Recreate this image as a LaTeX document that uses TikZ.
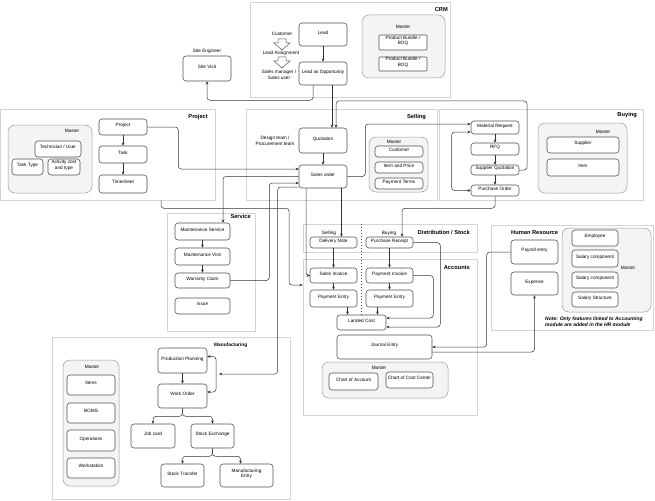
\documentclass[tikz,border=0pt]{standalone}
\usepackage{fontspec}
\setmainfont{Liberation Sans}
\usetikzlibrary{fit,arrows.meta}
\pgfdeclarelayer{bg}
\pgfsetlayers{bg,main}
\definecolor{framegray}{HTML}{D4D4D4}
\definecolor{masterfill}{HTML}{F4F4F4}
\definecolor{masterline}{HTML}{9A9A9A}
\definecolor{boxline}{HTML}{505050}
\definecolor{wirecol}{HTML}{333333}
\tikzset{
  txt/.style={font=\fontsize{4.7}{5.6}\selectfont, align=center, inner sep=0pt},
  box/.style={txt, draw=boxline, fill=white, rounded corners=3pt, line width=0.55pt},
  flatbox/.style={box, rounded corners=1pt},
  master/.style={inner sep=0pt, draw=masterline, fill=masterfill, rounded corners=7pt, line width=0.5pt},
  frame/.style={inner sep=0pt, draw=framegray, line width=0.7pt},
  title/.style={font=\fontsize{5.7}{7}\selectfont\bfseries, inner sep=0pt},
  wire/.style={draw=wirecol, line width=0.5pt, rounded corners=3pt, -{Stealth[length=3.2pt,width=2.8pt]}},
  hollow/.style={draw=boxline, fill=white, line width=0.5pt, line join=miter},
}
\begin{document}
\begin{tikzpicture}[x=1pt,y=-1pt]
\useasboundingbox (0,0) rectangle (655,500);
\begin{pgfonlayer}{bg}
  \node[frame, fit={(250,2) (450,97)}] (crmframe) {};
  \node[frame, fit={(0,109) (215,200)}] (projframe) {};
  \node[frame, fit={(246,109) (437,200)}] (sellframe) {};
  \node[frame, fit={(439,109) (643,200)}] (buyframe) {};
  \node[frame, fit={(167,213) (255,331)}] (servframe) {};
  \node[frame, fit={(303,224) (477,252)}] (distframe) {};
  \node[frame, fit={(303,259) (477,415)}] (accframe) {};
  \node[frame, fit={(491,225) (653,330)}] (hrframe) {};
  \node[frame, fit={(52,337) (290,499)}] (mfgframe) {};
  \node[master, fit={(362,15) (445,78)}] (crmmaster) {};
  \node[master, fit={(8,125) (92,193)}] (projmaster) {};
  \node[master, fit={(369,137) (428,192)}] (sellmaster) {};
  \node[master, fit={(538,123) (627,193)}] (buymaster) {};
  \node[master, fit={(322,362) (448,398)}] (accmaster) {};
  \node[master, fit={(562,228) (651,312)}] (hrmaster) {};
  \node[master, fit={(63,360) (119,486)}] (mfgmaster) {};
\end{pgfonlayer}
% titles
\node[title, anchor=east] (crmtitle) at (448,10) {CRM};
\node[title, anchor=east] (projtitle) at (208,117) {Project};
\node[title, anchor=east] (selltitle) at (426,117) {Selling};
\node[title, anchor=east] (buytitle) at (637,115) {Buying};
\node[title, anchor=east] (servtitle) at (251,216) {Service};
\node[title, anchor=east] (disttitle) at (470,232) {Distribution / Stock};
\node[title, anchor=east] (acctitle) at (470,268) {Accounts};
\node[title, anchor=west] (hrtitle) at (511,233) {Human Resource};
\node[title, anchor=west, font=\fontsize{4.8}{6}\selectfont\bfseries] (mfgtitle) at (214,345) {Manufacturing};
% master labels
\node[txt] (crmmlbl) at (403,27) {Master};
\node[txt] (projmlbl) at (72,131) {Master};
\node[txt] (sellmlbl) at (394,142) {Master};
\node[txt] (buymlbl) at (603,132) {Master};
\node[txt] (accmlbl) at (379,368) {Master};
\node[txt] (hrmlbl) at (628,268) {Master};
\node[txt] (mfgmlbl) at (92,367) {Master};
% crm
\node[box, fit={(299,23) (347,46)}] (lead) {Lead};
\node[box, fit={(299,62) (347,85)}] (leadopp) {Lead as Opportunity};
\node[flatbox, fit={(379,35) (427,50)}] (bundlea) {Product Bundle /\\BOQ};
\node[flatbox, fit={(379,57) (427,71)}] (bundleb) {Product Bundle /\\BOQ};
\node[txt] (custlbl) at (282,34) {Customer};
\node[txt] (assignlbl) at (281,53) {Lead Assignment};
\node[txt] (smlbl) at (279,75) {Sales manager /\\Sales user};
\foreach \y in {39,57}
  \draw[hollow] (278,\y) -- (286,\y) -- (286,\y+4) -- (290,\y+4) -- (282,\y+11) -- (274,\y+4) -- (278,\y+4) -- cycle;
\node[txt] (selbl) at (207,51) {Site Engineer};
\node[box, fit={(183,56) (231,81)}] (sitevisit) {Site Visit};
% project
\node[box, fit={(35,141) (81,157)}] (techuser) {Technician / User};
\node[box, fit={(12,159) (43,175)}] (tasktype) {Task Type};
\node[box, fit={(48,159) (80,175)}] (activity) {Activity cost\\and type};
\node[box, fit={(99,119) (147,135)}] (project) {Project};
\node[box, fit={(99,146) (147,163)}] (task) {Task};
\node[box, fit={(99,175) (147,193)}] (timesheet) {Timesheet};
% selling
\node[txt] (designlbl) at (275,141) {Design team /\\Procurement team};
\node[box, fit={(299,128) (347,153)}] (quotation) {Quotation};
\node[box, fit={(299,165) (347,188)}] (salesorder) {Sales order};
\node[box, fit={(375,146) (423,157)}] (customer) {Customer};
\node[box, fit={(375,162) (423,173)}] (itemprice) {Item and Price};
\node[box, fit={(375,178) (423,189)}] (payterms) {Payment Terms};
% buying
\node[box, fit={(471,121) (519,134)}] (matreq) {Material Request};
\node[box, fit={(471,143) (519,155)}] (rfq) {RFQ};
\node[box, fit={(471,165) (519,175)}] (supquot) {Supplier Quotation};
\node[box, fit={(471,185) (519,196)}] (porder) {Purchase Order};
\node[box, fit={(547,137) (619,153)}] (supplier) {Supplier};
\node[box, fit={(547,159) (619,176)}] (item) {Item};
% service
\node[box, fit={(175,223) (230,240)}] (maintserv) {Maintenance Service};
\node[box, fit={(175,248) (230,265)}] (maintvisit) {Maintenance Visit};
\node[box, fit={(175,273) (230,288)}] (warranty) {Warranty Claim};
\node[box, fit={(175,298) (230,314)}] (issue) {Issue};
% distribution / accounts
\node[txt] (sellinglbl) at (329,233) {Selling};
\node[txt] (buyinglbl) at (389,233) {Buying};
\node[box, fit={(310,237) (357,248)}] (delivery) {Delivery Note};
\node[box, fit={(366,237) (413,248)}] (preceipt) {Purchase Receipt};
\node[box, fit={(310,268) (357,283)}] (salesinv) {Sales Invoice};
\node[box, fit={(366,268) (413,283)}] (payinv) {Payment Invoice};
\node[box, fit={(310,290) (357,307)}] (payentryl) {Payment Entry};
\node[box, fit={(366,290) (413,307)}] (payentryr) {Payment Entry};
\node[box, fit={(337,315) (386,330)}] (landed) {Landed Cost};
\node[box, fit={(337,335) (432,359)}] (journal) {Journal Entry};
\node[box, fit={(329,373) (378,390)}] (chartacc) {Chart of Account};
\node[box, fit={(386,372) (433,388)}] (chartcc) {Chart of Cost Center};
\draw[draw=boxline, line width=0.4pt, dash pattern=on 1.5pt off 1.5pt] (landed.north |- distframe.north) -- (landed.north);
% human resource
\node[box, fit={(511,240) (558,264)}] (payroll) {Payroll entry};
\node[box, fit={(511,272) (558,295)}] (expense) {Expense};
\node[box, fit={(572,230) (618,246)}] (employee) {Employee};
\node[box, fit={(572,250) (618,267)}] (salcompa) {Salary component};
\node[box, fit={(572,272) (618,288)}] (salcompb) {Salary component};
\node[box, fit={(572,292) (618,307)}] (salstruct) {Salary Structure};
\node[txt, anchor=north west, align=left, font=\fontsize{5}{6}\selectfont\bfseries\itshape] (hrnote) at (545,317) {Note: Only features linked to Accounting\\module are added in the HR module};
% manufacturing
\node[box, fit={(67,375) (115,395)}] (items) {Items};
\node[box, fit={(67,403) (115,423)}] (boms) {BOMS};
\node[box, fit={(67,430) (115,451)}] (operations) {Operations};
\node[box, fit={(67,458) (115,478)}] (workstation) {Workstation};
\node[box, fit={(158,348) (207,373)}] (pplan) {Production Planning};
\node[box, fit={(158,384) (207,408)}] (workorder) {Work Order};
\node[box, fit={(131,424) (175,448)}] (jobcard) {Job card};
\node[box, fit={(191,424) (234,448)}] (stockex) {Stock Exchange};
\node[box, fit={(161,464) (204,487)}] (stocktr) {Stock Transfer};
\node[box, fit={(220,464) (273,487)}] (mfgentry) {Manufacturing\\Entry};
\coordinate (mfgin) at (219,374);
\coordinate (mfgbus) at (216,374);
% connectors
\draw[wire] (lead) -- (leadopp);
\draw[wire] ([xshift=-10pt]leadopp.south) -- ++(0,15) -| (sitevisit.south);
\draw[wire] ([xshift=9pt]leadopp.south) -- ([xshift=9pt]quotation.north);
\draw[wire] (supquot.east) -| (527,101) -| ([xshift=13pt]quotation.north);
\draw[wire] (quotation) -- (salesorder);
\draw[wire] (project.east) -- ++(31,0) |- ([yshift=7.5pt]salesorder.west);
\draw[wire] (salesorder.west) -| ([xshift=20.5pt]maintserv.north);
\draw[wire] (warranty.east) -- ++(39,0) |- ([yshift=-6.5pt]salesorder.west);
\draw[wire] ([yshift=-10.5pt]salesorder.west) -- ++(-21,0) |- (mfgin);
\draw[wire] (mfgbus) |- ([yshift=4pt]pplan.east);
\draw[wire] (mfgbus) |- ([yshift=4pt]workorder.east);
\draw[wire] ([xshift=18.5pt]salesorder.south) -- ([xshift=8pt]delivery.north);
\draw[wire] ([xshift=-17pt]salesorder.south) |- (salesinv.west);
\draw[wire] ([xshift=53.5pt]projframe.south) -- ++(0,8) -| (289,285) -- ([yshift=52pt]accframe.west);
\draw[wire] (salesorder.east) -- ++(18,0) |- ([yshift=3.5pt]matreq.west);
\draw[wire, {Stealth[length=3.2pt,width=2.8pt]}-{Stealth[length=3.2pt,width=2.8pt]}] ([yshift=-4.5pt]matreq.west) -- ++(-19,0) |- (porder.west);
\draw[wire] (matreq) -- (rfq);
\draw[wire] (rfq) -- (supquot);
\draw[wire] (supquot) -- (porder);
\draw[wire] (porder.south) -- ++(0,12) -| ([xshift=12.5pt]preceipt.north);
\draw[wire] (delivery) -- (salesinv);
\draw[wire] (preceipt) -- (payinv);
\draw[wire] (salesinv) -- (payentryl);
\draw[wire] (payinv) -- (payentryr);
\draw[wire] ([xshift=14pt]payentryl.south) -- ([xshift=14pt]payentryl.south |- landed.north);
\draw[wire] ([xshift=-12pt]payentryr.south) -- ([xshift=-12pt]payentryr.south |- landed.north);
\draw[wire] (preceipt.east) -- ++(27,0) |- ([yshift=-4.5pt]landed.east);
\draw[wire] (payinv.east) -- ++(20,0) |- ([yshift=4.5pt]landed.east);
\draw[wire] (payroll.west) -- ++(-24,0) |- (journal.east);
\draw[wire] ([yshift=-5pt]journal.east) -| (expense.south);
\draw[wire] (project) -- (task);
\draw[wire] (task) -- (timesheet);
\draw[wire] (maintserv) -- (maintvisit);
\draw[wire] (maintvisit) -- (warranty);
\draw[wire] (pplan) -- (workorder);
\draw[wire] (workorder.south) -- ++(0,8) -| (jobcard.north);
\draw[wire] (workorder.south) -- ++(0,8) -| (stockex.north);
\draw[wire] (stockex.south) -- ++(0,8) -| (stocktr.north);
\draw[wire] (stockex.south) -- ++(0,8) -| ([xshift=-6pt]mfgentry.north);
\end{tikzpicture}
\end{document}
